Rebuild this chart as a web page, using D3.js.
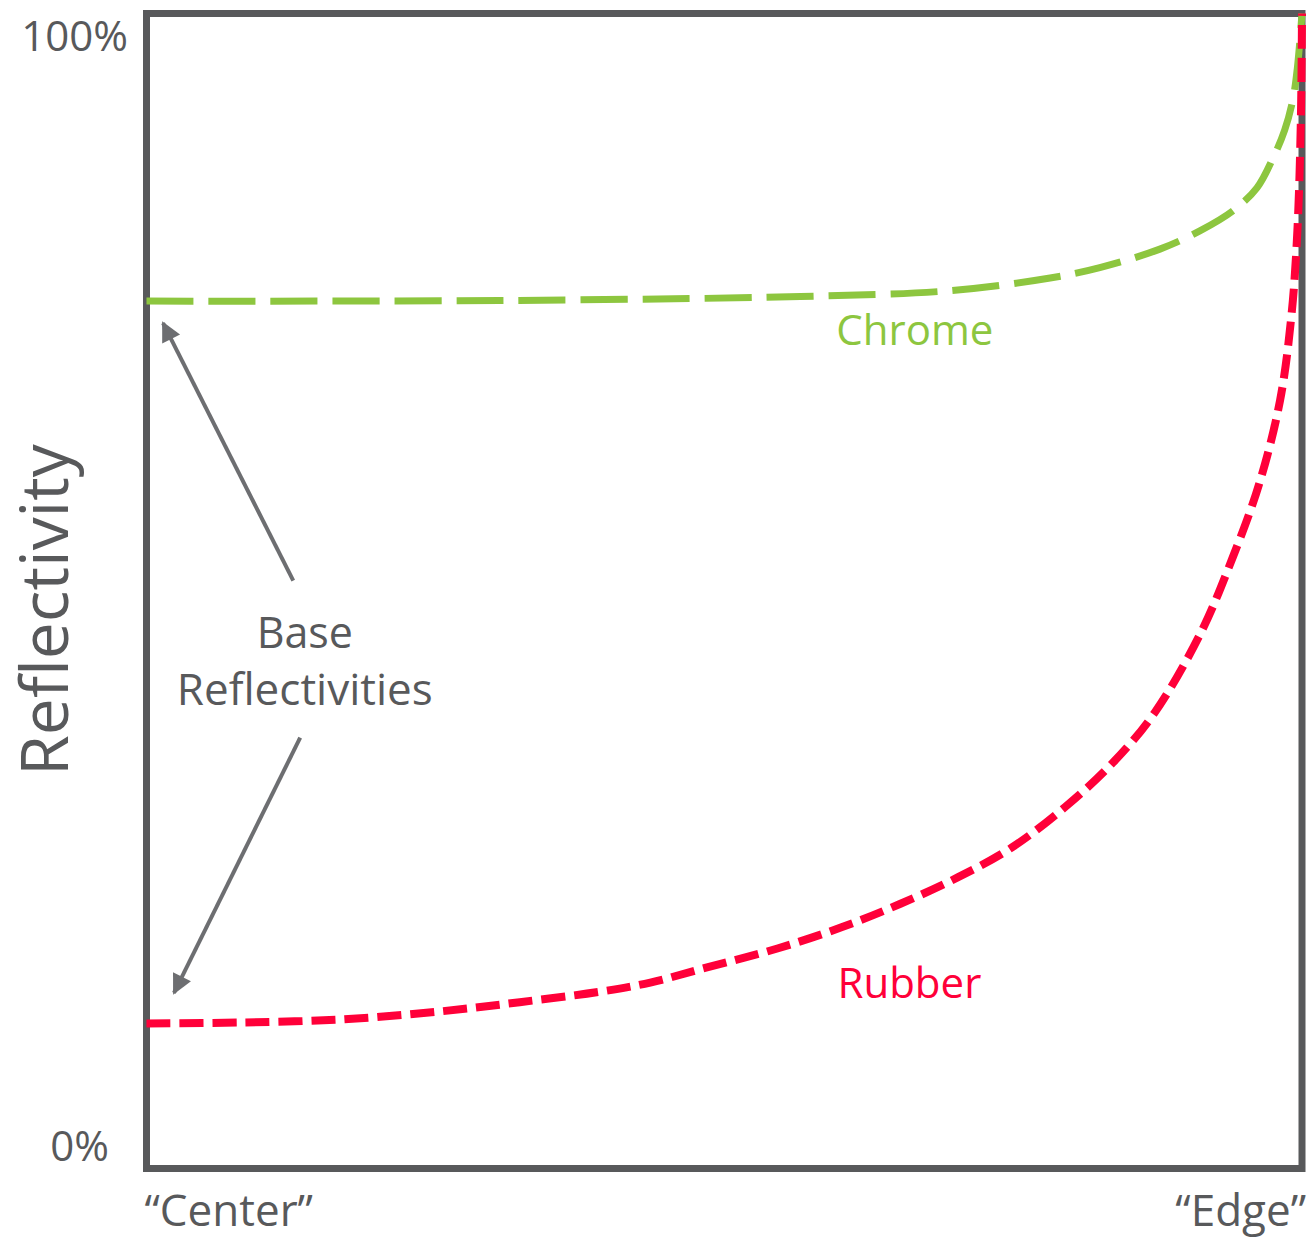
<!DOCTYPE html>
<html>
<head>
<meta charset="utf-8">
<script src="https://cdn.jsdelivr.net/npm/d3@7"></script>
<style>
  body { margin: 0; background: #fff; }
  text { font-family: "Open Sans", "Noto Sans", sans-serif; }
</style>
</head>
<body>
<div id="chart"></div>
<script>
// Position from "Center" (0) to "Edge" (100), reflectivity in %
var chromeX = [0, 30.6, 56.6, 69.5, 78.2, 82.5, 87.7, 91.2, 94.0, 96.1, 97.5, 98.5, 99.2, 99.6, 100];
var chromeY = [75.1, 75.15, 75.5, 76.0, 77.1, 78.0, 79.6, 81.2, 82.9, 84.9, 87.5, 89.9, 92.5, 95.3, 100];

var rubberX = [0, 8.1, 16.8, 25.4, 32.3, 39.2, 43.6, 48.1, 54.6, 60.2, 65.2, 70.2, 74.9, 79.5, 83.6, 87.2, 91.2, 94.0, 96.3, 98.1, 99.1, 99.6, 99.9, 100];
var rubberY = [12.55, 12.64, 12.9, 13.6, 14.4, 15.3, 16.1, 17.3, 19.05, 20.9, 22.9, 25.2, 27.8, 31.3, 35.1, 39.4, 46.3, 52.9, 59.3, 66.5, 74.0, 81.2, 90.7, 100];

var yTickLabels = ["0%", "100%"];
var xTickLabels = ["\u201CCenter\u201D", "\u201CEdge\u201D"];

var width = 1309;
var height = 1242;

var x = d3.scaleLinear().domain([0, 100]).range([146.5, 1302]);
var y = d3.scaleLinear().domain([0, 100]).range([1168.5, 13.5]);

var svg = d3.select("#chart")
    .append("svg")
    .attr("width", width)
    .attr("height", height);

var frameColor = "#58595b";

// arrowhead marker
svg.append("defs").append("marker")
    .attr("id", "arrow")
    .attr("viewBox", "0 0 10 10")
    .attr("refX", 9)
    .attr("refY", 5)
    .attr("markerWidth", 6)
    .attr("markerHeight", 5)
    .attr("markerUnits", "strokeWidth")
    .attr("orient", "auto")
    .append("path")
    .attr("d", "M0,0 L10,5 L0,10 Z")
    .style("fill", "#6d6e71");

// frame
svg.append("rect")
    .attr("x", x(0))
    .attr("y", y(100))
    .attr("width", x(100) - x(0))
    .attr("height", y(0) - y(100))
    .style("fill", "none")
    .style("stroke", frameColor)
    .style("stroke-width", 7);

var line = d3.line()
    .x(function (d) { return x(d[0]); })
    .y(function (d) { return y(d[1]); })
    .curve(d3.curveCatmullRom.alpha(0.5));

var chromeData = chromeX.map(function (v, i) { return [v, chromeY[i]]; });
var rubberData = rubberX.map(function (v, i) { return [v, rubberY[i]]; });

svg.append("path")
    .datum(chromeData)
    .attr("d", line)
    .style("fill", "none")
    .style("stroke", "#8dc63f")
    .style("stroke-width", 7)
    .style("stroke-dasharray", "47,15");

svg.append("path")
    .datum(rubberData)
    .attr("d", line)
    .style("fill", "none")
    .style("stroke", "#ff0039")
    .style("stroke-width", 8)
    .style("stroke-dasharray", "24,9");

// axis labels
svg.append("text")
    .attr("x", 128)
    .attr("y", y(100) + 37)
    .attr("text-anchor", "end")
    .style("font-size", "42px")
    .style("fill", frameColor)
    .text(yTickLabels[1]);

svg.append("text")
    .attr("x", 109)
    .attr("y", y(0) - 8)
    .attr("text-anchor", "end")
    .style("font-size", "42px")
    .style("fill", frameColor)
    .text(yTickLabels[0]);

svg.append("text")
    .attr("x", x(0) - 2)
    .attr("y", 1226)
    .attr("text-anchor", "start")
    .style("font-size", "44px")
    .style("fill", frameColor)
    .text(xTickLabels[0]);

svg.append("text")
    .attr("x", x(100) + 4)
    .attr("y", 1226)
    .attr("text-anchor", "end")
    .style("font-size", "44px")
    .style("fill", frameColor)
    .text(xTickLabels[1]);

svg.append("text")
    .attr("transform", "translate(68," + 610 + ") rotate(-90)")
    .attr("text-anchor", "middle")
    .style("font-size", "66px")
    .style("fill", frameColor)
    .text("Reflectivity");

// series labels
svg.append("text")
    .attr("x", x(59.7))
    .attr("y", y(71.3))
    .style("font-size", "42px")
    .style("fill", "#8dc63f")
    .text("Chrome");

svg.append("text")
    .attr("x", x(59.8))
    .attr("y", y(14.8))
    .style("font-size", "42px")
    .style("fill", "#ff0039")
    .text("Rubber");

// annotation
svg.append("text")
    .attr("x", x(13.7))
    .attr("y", y(45.1))
    .attr("text-anchor", "middle")
    .style("font-size", "43px")
    .style("fill", frameColor)
    .text("Base");

svg.append("text")
    .attr("x", x(13.7))
    .attr("y", y(40.1))
    .attr("text-anchor", "middle")
    .style("font-size", "44px")
    .style("fill", frameColor)
    .text("Reflectivities");

var arrows = [
    [[12.7, 50.9], [1.43, 73.2]],
    [[13.3, 37.3], [2.38, 15.2]]
];

svg.selectAll(".arrow")
    .data(arrows)
    .enter().append("line")
    .attr("class", "arrow")
    .attr("x1", function (d) { return x(d[0][0]); })
    .attr("y1", function (d) { return y(d[0][1]); })
    .attr("x2", function (d) { return x(d[1][0]); })
    .attr("y2", function (d) { return y(d[1][1]); })
    .style("stroke", "#6d6e71")
    .style("stroke-width", 4)
    .attr("marker-end", "url(#arrow)");
</script>
</body>
</html>
